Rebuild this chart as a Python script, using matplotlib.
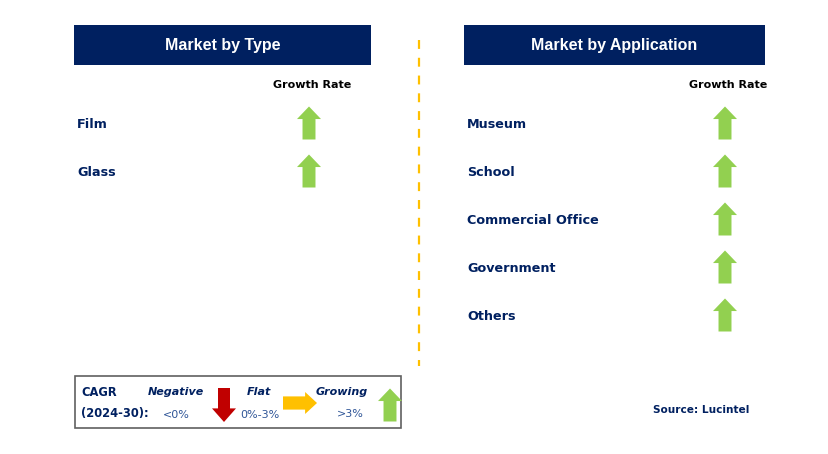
import matplotlib
matplotlib.use("Agg")
import matplotlib.pyplot as plt
from matplotlib.patches import Rectangle, Polygon

# ---- data ----
type_segments = ["Film", "Glass"]
type_growth = ["up", "up"]
app_segments = ["Museum", "School", "Commercial Office", "Government", "Others"]
app_growth = ["up", "up", "up", "up", "up"]

navy = "#002060"
green = "#92D050"
red = "#C00000"
amber = "#FFC000"

fig = plt.figure(figsize=(8.29, 4.54), dpi=100)
ax = fig.add_axes([0, 0, 1, 1])
ax.set_xlim(0, 829)
ax.set_ylim(454, 0)
ax.axis("off")


def up_arrow(xc, yc, w=24, h=33, color=green):
    hw = w / 2
    sw = w * 0.27
    head = h * 0.38
    pts = [(xc, yc - h / 2), (xc + hw, yc - h / 2 + head), (xc + sw, yc - h / 2 + head),
           (xc + sw, yc + h / 2), (xc - sw, yc + h / 2), (xc - sw, yc - h / 2 + head),
           (xc - hw, yc - h / 2 + head)]
    ax.add_patch(Polygon(pts, closed=True, color=color, lw=0))


def down_arrow(xc, yc, w=24, h=33, color=red):
    hw = w / 2
    sw = w * 0.25
    head = h * 0.4
    pts = [(xc, yc + h / 2), (xc + hw, yc + h / 2 - head), (xc + sw, yc + h / 2 - head),
           (xc + sw, yc - h / 2), (xc - sw, yc - h / 2), (xc - sw, yc + h / 2 - head),
           (xc - hw, yc + h / 2 - head)]
    ax.add_patch(Polygon(pts, closed=True, color=color, lw=0))


def right_arrow(xc, yc, w=34, h=22, color=amber):
    hh = h / 2
    sh = h * 0.3
    head = w * 0.35
    pts = [(xc + w / 2, yc), (xc + w / 2 - head, yc - hh), (xc + w / 2 - head, yc - sh),
           (xc - w / 2, yc - sh), (xc - w / 2, yc + sh), (xc + w / 2 - head, yc + sh),
           (xc + w / 2 - head, yc + hh)]
    ax.add_patch(Polygon(pts, closed=True, color=color, lw=0))


def panel(x0, x1, title, segments, growth, arrow_x):
    ax.add_patch(Rectangle((x0, 25), x1 - x0, 40, color=navy, lw=0))
    ax.text((x0 + x1) / 2, 45.5, title, color="white", fontsize=11.5, fontweight="bold",
            family="Liberation Sans", ha="center", va="center")
    ax.text(arrow_x + 3, 85, "Growth Rate", color="black", fontsize=8, fontweight="bold",
            family="DejaVu Sans", ha="center", va="center")
    for i, (seg, g) in enumerate(zip(segments, growth)):
        y = 124 + 48 * i
        ax.text(x0 + 3, y, seg, color=navy, fontsize=9.2, fontweight="bold",
                family="DejaVu Sans", ha="left", va="center")
        if g == "up":
            up_arrow(arrow_x, y - 1)
        elif g == "down":
            down_arrow(arrow_x, y - 1)
        else:
            right_arrow(arrow_x, y - 1)


panel(74, 371, "Market by Type", type_segments, type_growth, 309)
panel(464, 765, "Market by Application", app_segments, app_growth, 725)

# divider
ax.plot([419, 419], [40, 366], color=amber, lw=1.6, ls=(0, (4, 4)))

# legend box
ax.add_patch(Rectangle((75, 376), 326, 52, fill=False, ec="#606060", lw=1.2))
ax.text(81, 392, "CAGR", color=navy, fontsize=8.3, fontweight="bold", family="DejaVu Sans",
        ha="left", va="center")
ax.text(81, 413, "(2024-30):", color=navy, fontsize=8.3, fontweight="bold", family="DejaVu Sans",
        ha="left", va="center")
ax.text(176, 392, "Negative", color=navy, fontsize=8, fontweight="bold", style="italic",
        family="DejaVu Sans", ha="center", va="center")
ax.text(176, 415, "<0%", color="#2F5597", fontsize=8, family="DejaVu Sans",
        ha="center", va="center")
down_arrow(224, 405, w=24, h=34)
ax.text(259, 392, "Flat", color=navy, fontsize=8, fontweight="bold", style="italic",
        family="DejaVu Sans", ha="center", va="center")
ax.text(260, 415, "0%-3%", color="#2F5597", fontsize=8, family="DejaVu Sans",
        ha="center", va="center")
right_arrow(300, 403, w=34, h=22)
ax.text(342, 392, "Growing", color=navy, fontsize=8, fontweight="bold", style="italic",
        family="DejaVu Sans", ha="center", va="center")
ax.text(350, 414, ">3%", color="#2F5597", fontsize=8, family="DejaVu Sans",
        ha="center", va="center")
up_arrow(390, 405, w=24, h=33)

ax.text(749, 410, "Source: Lucintel", color=navy, fontsize=7.6, fontweight="bold",
        family="DejaVu Sans", ha="right", va="center")

fig.savefig("out.png", dpi=100)
